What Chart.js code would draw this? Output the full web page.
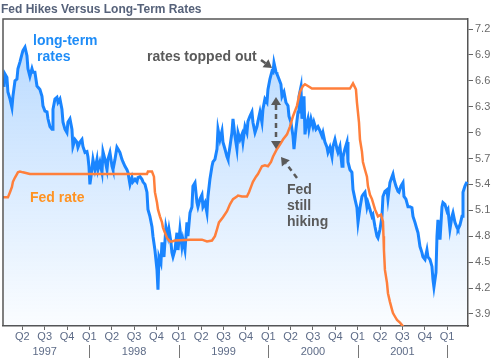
<!DOCTYPE html>
<html>
<head>
<meta charset="utf-8">
<script src="https://cdn.jsdelivr.net/npm/chart.js@4.4.1/dist/chart.umd.min.js"></script>
<style>
html,body{margin:0;padding:0;background:#fff;}
#c{display:block;}
</style>
</head>
<body>
<canvas id="c" width="496" height="358"></canvas>
<script>
// ---- data (dates as decimal years) ----
const chartTitle = 'Fed Hikes Versus Long-Term Rates';
const longT = [
1997.045,1997.056,1997.078,1997.089,1997.112,1997.134,1997.145,1997.168,1997.190,1997.201,1997.224,1997.246,1997.257,1997.280,1997.302,1997.313,1997.335,1997.358,1997.369,1997.391,1997.414,1997.447,1997.470,1997.481,1997.503,1997.526,1997.537,1997.559,1997.582,1997.593,1997.615,1997.637,1997.649,1997.671,1997.693,1997.705,1997.727,1997.749,1997.760,1997.783,1997.805,1997.816,1997.839,1997.861,1997.872,1997.895,1997.917,1997.928,1997.951,1997.973,1997.984,1997.995,
1998.006,1998.018,1998.040,1998.062,1998.085,1998.096,1998.118,1998.141,1998.152,1998.174,1998.197,1998.208,1998.230,1998.253,1998.264,1998.286,1998.308,1998.320,1998.342,1998.364,1998.376,1998.398,1998.420,1998.431,1998.454,1998.476,1998.487,1998.510,1998.532,1998.543,1998.566,1998.588,1998.599,1998.622,1998.644,1998.655,1998.677,1998.700,1998.711,1998.733,1998.756,1998.767,1998.778,1998.800,1998.812,1998.834,1998.856,1998.879,1998.890,1998.912,1998.923,1998.935,1998.957,1998.979,1998.991,
1999.013,1999.035,1999.046,1999.069,1999.091,1999.102,1999.125,1999.147,1999.158,1999.181,1999.203,1999.214,1999.237,1999.259,1999.270,1999.293,1999.315,1999.326,1999.348,1999.371,1999.382,1999.404,1999.427,1999.438,1999.460,1999.483,1999.494,1999.516,1999.539,1999.550,1999.572,1999.594,1999.606,1999.628,1999.650,1999.662,1999.684,1999.706,1999.717,1999.740,1999.762,1999.773,1999.796,1999.818,1999.829,1999.852,1999.874,1999.885,1999.908,1999.930,1999.941,1999.963,1999.986,1999.997,
2000.019,2000.042,2000.053,2000.064,2000.087,2000.098,2000.120,2000.142,2000.154,2000.176,2000.198,2000.221,2000.232,2000.254,2000.277,2000.288,2000.310,2000.333,2000.344,2000.366,2000.377,2000.388,2000.400,2000.411,2000.422,2000.444,2000.456,2000.478,2000.500,2000.511,2000.534,2000.556,2000.579,2000.601,2000.612,2000.634,2000.657,2000.668,2000.690,2000.713,2000.724,2000.746,2000.769,2000.780,2000.802,2000.825,2000.836,2000.858,2000.881,2000.892,2000.914,2000.936,2000.948,2000.970,2000.992,
2001.004,2001.026,2001.048,2001.059,2001.082,2001.104,2001.115,2001.138,2001.160,2001.171,2001.194,2001.216,2001.227,2001.250,2001.272,2001.283,2001.305,2001.328,2001.339,2001.361,2001.384,2001.395,2001.406,2001.428,2001.451,2001.462,2001.484,2001.507,2001.518,2001.540,2001.563,2001.585,2001.607,2001.619,2001.641,2001.663,2001.675,2001.697,2001.719,2001.730,2001.753,2001.775,2001.786,2001.809,2001.831,2001.842,2001.853,2001.876,2001.887,2001.898,2001.921,2001.943,2001.954,2001.976,2001.999,
2002.010,2002.032,2002.055,2002.066,2002.088,2002.111,2002.122,2002.144,2002.167,2002.178,2002.200,2002.222];
const longRate = [
6.53,6.68,6.64,6.47,6.39,6.29,6.42,6.60,6.62,6.74,6.82,6.91,6.95,6.99,6.89,6.74,6.65,6.74,6.70,6.70,6.54,6.50,6.42,6.31,6.25,6.24,6.16,6.07,6.04,6.27,6.39,6.41,6.35,6.39,6.27,6.12,6.04,6.00,6.12,6.16,6.04,5.84,5.92,5.89,5.83,5.89,5.92,5.84,5.77,5.78,5.72,5.61,
5.40,5.49,5.69,5.57,5.69,5.57,5.66,5.54,5.78,5.69,5.57,5.69,5.77,5.61,5.57,5.69,5.83,5.81,5.77,5.69,5.66,5.61,5.57,5.54,5.40,5.48,5.43,5.46,5.43,5.48,5.49,5.46,5.43,5.40,5.31,5.11,5.03,4.91,4.80,4.64,4.41,4.18,4.56,4.49,4.73,4.56,4.91,4.80,4.88,4.73,4.61,4.56,4.64,4.84,4.64,
4.88,4.68,4.76,4.64,4.96,4.80,5.07,5.14,5.38,5.42,5.19,5.14,5.23,5.28,5.14,5.19,5.07,5.26,5.46,5.61,5.66,5.69,5.81,6.04,5.92,6.02,5.89,5.81,5.72,5.69,5.84,6.00,6.16,5.96,5.81,6.00,5.92,5.98,5.89,6.07,6.00,6.13,6.19,6.24,6.12,6.00,6.07,6.13,6.24,6.12,6.27,6.39,6.35,6.50,
6.62,6.71,6.70,6.81,6.70,6.68,6.62,6.56,6.42,6.47,6.35,6.31,6.19,6.12,5.96,5.81,6.04,6.24,6.42,6.53,6.16,6.27,6.42,5.98,6.07,6.16,6.04,6.16,6.07,6.12,6.04,6.07,6.02,5.96,6.00,5.89,5.83,5.77,5.83,5.72,5.84,5.92,5.81,5.77,5.84,5.61,5.72,5.81,5.89,5.66,5.57,5.54,5.34,5.23,5.13,
4.96,5.13,5.26,5.28,5.31,5.14,5.19,5.11,5.03,5.05,4.91,4.80,4.78,4.88,5.03,5.26,5.32,5.34,5.23,5.42,5.49,5.52,5.46,5.38,5.32,5.31,5.38,5.42,5.26,5.23,5.14,5.14,5.13,5.03,4.96,4.88,4.84,4.68,4.61,4.56,4.53,4.64,4.56,4.53,4.45,4.30,4.21,4.38,4.80,4.99,4.76,5.14,5.19,5.17,5.09,
5.11,4.88,5.03,5.07,4.96,4.90,4.88,4.93,5.03,5.31,5.38,5.43];
const fedT = [
1997.034,1997.089,1997.112,1997.134,1997.145,1997.168,1997.190,1997.201,1997.224,1997.257,1997.302,1997.335,
1998.644,1998.655,1998.700,1998.722,1998.733,1998.756,1998.767,1998.789,1998.812,1998.823,1998.845,1998.868,1998.901,1998.923,1998.957,
1999.125,1999.259,1999.315,1999.371,1999.404,1999.427,1999.449,1999.494,1999.539,1999.572,1999.606,1999.650,1999.662,1999.706,1999.762,1999.785,1999.818,1999.829,1999.863,1999.885,1999.930,1999.963,1999.997,
2000.031,2000.053,2000.098,2000.131,2000.165,2000.210,2000.243,2000.277,2000.321,2000.355,2000.388,2000.411,2000.444,2000.489,2000.914,2000.948,2000.981,2000.992,
2001.015,2001.026,2001.048,2001.059,2001.082,2001.104,2001.115,2001.138,2001.160,2001.194,2001.227,2001.261,2001.283,2001.289,2001.294,2001.305,2001.328,2001.339,2001.361,2001.384,2001.395,2001.417,2001.440,2001.473,2001.496,2001.518];
const fedRate = [
5.25,5.25,5.31,5.37,5.43,5.48,5.52,5.54,5.55,5.54,5.53,5.52,
5.52,5.55,5.55,5.49,5.31,5.19,5.11,5.03,4.96,4.90,4.84,4.78,4.74,4.74,4.75,
4.76,4.76,4.74,4.75,4.80,4.88,4.96,5.02,5.09,5.17,5.23,5.26,5.27,5.26,5.26,5.31,5.40,5.43,5.49,5.52,5.61,5.62,5.61,
5.66,5.72,5.81,5.86,5.92,5.98,6.07,6.19,6.31,6.47,6.54,6.56,6.54,6.51,6.51,6.57,6.50,6.35,
6.12,5.92,5.78,5.66,5.57,5.49,5.38,5.28,5.23,5.11,5.03,5.05,4.97,4.80,4.64,4.41,4.26,4.14,4.04,3.95,3.91,3.87,3.83,3.80,3.77,3.74];
const quarterTicks = [1997.25,1997.5,1997.75,1998,1998.25,1998.5,1998.75,1999,1999.25,1999.5,1999.75,2000,2000.25,2000.5,2000.75,2001,2001.25,2001.5,2001.75,2002];
const quarterLabels = ['Q2','Q3','Q4','Q1','Q2','Q3','Q4','Q1','Q2','Q3','Q4','Q1','Q2','Q3','Q4','Q1','Q2','Q3','Q4','Q1'];
const yearLabels = ['1997','1998','1999','2000','2001'];
const yearStarts = [1997,1998,1999,2000,2001];
const rateTicks = [3.9,4.2,4.5,4.8,5.1,5.4,5.7,6,6.3,6.6,6.9,7.2];
const rateTickLabels = ['3.9','4.2','4.5','4.8','5.1','5.4','5.7','6','6.3','6.6','6.9','7.2'];

const FONT = '"Liberation Sans", Arial, sans-serif';

function drawArrow(c, x1, y1, x2, y2, startHead, endHead, dashed) {
  const ang = Math.atan2(y2 - y1, x2 - x1);
  const hl = 8, hw = 5;
  const sx = x1 + (startHead ? Math.cos(ang) * hl : 0), sy = y1 + (startHead ? Math.sin(ang) * hl : 0);
  const ex = x2 - (endHead ? Math.cos(ang) * hl : 0), ey = y2 - (endHead ? Math.sin(ang) * hl : 0);
  c.save();
  c.strokeStyle = '#5a5a5a'; c.fillStyle = '#5a5a5a'; c.lineWidth = 2.5;
  c.setLineDash(dashed ? [5, 4] : []);
  c.beginPath(); c.moveTo(sx, sy); c.lineTo(ex, ey); c.stroke();
  c.setLineDash([]);
  function head(tx, ty, a) {
    c.beginPath();
    c.moveTo(tx, ty);
    c.lineTo(tx - Math.cos(a) * hl + Math.sin(a) * hw, ty - Math.sin(a) * hl - Math.cos(a) * hw);
    c.lineTo(tx - Math.cos(a) * hl - Math.sin(a) * hw, ty - Math.sin(a) * hl + Math.cos(a) * hw);
    c.closePath(); c.fill();
  }
  if (endHead) head(x2, y2, ang);
  if (startHead) head(x1, y1, ang + Math.PI);
  c.restore();
}

const deco = {
  id: 'deco',
  afterDraw(chart) {
    const c = chart.ctx, a = chart.chartArea, xs = chart.scales.x;
    c.save();
    c.strokeStyle = '#555'; c.lineWidth = 1.5;
    c.beginPath(); c.moveTo(a.left, a.bottom); c.lineTo(a.left, a.top); c.lineTo(a.right, a.top); c.stroke();
    c.font = 'bold 12px ' + FONT; c.fillStyle = '#56627a'; c.textAlign = 'left'; c.textBaseline = 'alphabetic';
    c.fillText(chartTitle, 1, 12.5);
    c.font = '11px ' + FONT; c.fillStyle = '#5d6b87'; c.textAlign = 'center'; c.textBaseline = 'middle';
    yearStarts.forEach((y, i) => {
      c.fillText(yearLabels[i], xs.getPixelForValue(y + 0.5), 351.5);
      const sx = Math.round(xs.getPixelForValue(y + 1)) + 0.5;
      c.strokeStyle = '#777'; c.lineWidth = 1;
      c.beginPath(); c.moveTo(sx, 345); c.lineTo(sx, 358); c.stroke();
    });
    c.textAlign = 'left'; c.textBaseline = 'alphabetic';
    c.font = 'bold 14px ' + FONT;
    c.fillStyle = '#1e8cf7';
    c.fillText('long-term', 33, 45);
    c.fillText('rates', 37, 61);
    c.fillStyle = '#ff9322';
    c.fillText('Fed rate', 30, 201.5);
    c.fillStyle = '#5a5a5a';
    c.fillText('rates topped out', 147, 61);
    c.fillText('Fed', 287, 194);
    c.fillText('still', 287, 210);
    c.fillText('hiking', 287, 226);
    c.restore();
    drawArrow(c, 261, 60, 272, 68, false, true, false);
    drawArrow(c, 276, 97, 276, 149, true, true, true);
    drawArrow(c, 297, 178, 281, 157, false, true, true);
  }
};

new Chart(document.getElementById('c'), {
  type: 'line',
  data: {
    datasets: [
      {
        label: 'Fed rate',
        data: fedT.map((t, i) => ({ x: t, y: fedRate[i] })),
        borderColor: '#ff7f3b', borderWidth: 2.5, pointRadius: 0, fill: false, tension: 0, clip: 0
      },
      {
        label: 'long-term rates',
        data: longT.map((t, i) => ({ x: t, y: longRate[i] })),
        borderColor: '#1a85ff', borderWidth: 3, pointRadius: 0, tension: 0, clip: 0,
        borderJoinStyle: 'miter',
        fill: 'start',
        backgroundColor: (ctx) => {
          const ca = ctx.chart.chartArea;
          if (!ca) return 'rgba(30,136,255,0.15)';
          const g = ctx.chart.ctx.createLinearGradient(0, ca.top, 0, ca.bottom);
          g.addColorStop(0, 'rgba(30,136,255,0.33)');
          g.addColorStop(1, 'rgba(30,136,255,0.02)');
          return g;
        }
      }
    ]
  },
  options: {
    responsive: false,
    animation: false,
    devicePixelRatio: 1,
    layout: { padding: { left: 3, top: 19, right: 0, bottom: 0 } },
    plugins: { legend: { display: false }, tooltip: { enabled: false }, title: { display: false } },
    scales: {
      x: {
        type: 'linear', position: 'bottom', min: 1997.034, max: 2002.234,
        afterBuildTicks: (s) => { s.ticks = quarterTicks.map(v => ({ value: v })); },
        afterFit: (s) => { s.height = 32; },
        grid: { drawOnChartArea: false, drawTicks: true, tickLength: 4, color: '#666', lineWidth: 1 },
        border: { display: true, color: '#555', width: 1.5 },
        ticks: {
          autoSkip: false, maxRotation: 0, padding: 0,
          font: { family: FONT, size: 11 }, color: '#5d6b87',
          callback: (v, i) => quarterLabels[i]
        }
      },
      y: {
        type: 'linear', position: 'right', min: 3.76, max: 7.316,
        afterBuildTicks: (s) => { s.ticks = rateTicks.map(v => ({ value: v })); },
        afterFit: (s) => { s.width = 28; },
        grid: { drawOnChartArea: false, drawTicks: true, tickLength: 5, color: '#666', lineWidth: 1 },
        border: { display: true, color: '#555', width: 1.5 },
        ticks: {
          padding: 2, font: { family: FONT, size: 11 }, color: '#6a6a6a',
          callback: (v, i) => rateTickLabels[i]
        }
      }
    }
  },
  plugins: [deco]
});
</script>
</body>
</html>
